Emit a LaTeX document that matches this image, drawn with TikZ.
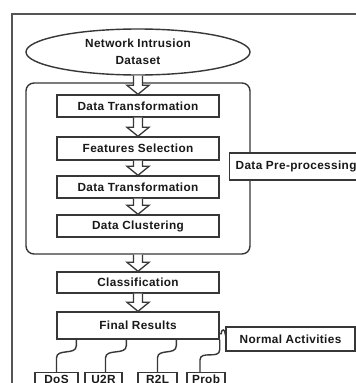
\documentclass[tikz,border=0pt]{standalone}
\usepackage{fontspec}
\newfontfamily\lbl[LetterSpace=3]{Liberation Sans}
\usetikzlibrary{shapes.geometric,calc}
\definecolor{ln}{RGB}{55,55,55}
\definecolor{tx}{RGB}{25,25,25}
\tikzset{
  lab/.style={font=\lbl\bfseries\fontsize{11.8}{17}\selectfont, text=tx},
  stepbox/.style={lab, draw=ln, line width=1.4pt, fill=white, rectangle, minimum width=162pt, inner sep=0pt},
  smallbox/.style={lab, draw=ln, line width=1.4pt, fill=white, rectangle, anchor=north, inner sep=0pt, text height=7.5pt, text depth=12pt, inner ysep=3pt},
  conn/.style={draw=ln, line width=1.4pt},
}
\newcommand\blockarr[2]{%
  \path[fill=white, draw=ln, line width=1.3pt] let \p1=(#1), \p2=(#2) in
    (\x1-4.5pt,\y1) -- (\x1-4.5pt,\y2+9pt) -- (\x1-11pt,\y2+9pt) -- (\x1,\y2)
    -- (\x1+11pt,\y2+9pt) -- (\x1+4.5pt,\y2+9pt) -- (\x1+4.5pt,\y1);
}
\begin{document}
\begin{tikzpicture}[x=1pt,y=-1pt]
\useasboundingbox (0,0) rectangle (356,383);
\clip (0,0) rectangle (356,383);
\fill[white] (0,0) rectangle (356,383);
% outer frame
\draw[draw=ln!85, line width=1.4pt] (12,14) rectangle (420,430);
% ellipse
\node[lab, ellipse, draw=ln, line width=1.4pt, minimum width=224pt, minimum height=46pt, inner sep=0pt, align=center] (ds) at (138,52) {Network Intrusion\\Dataset};
% rounded group
\node[draw=ln, line width=1.4pt, rounded corners=8pt, minimum width=224pt, minimum height=171pt, inner sep=0pt] (grp) at (138,168.5) {};
\node[lab, draw=ln, line width=1.4pt, fill=white, anchor=west, inner xsep=6pt, minimum height=27pt, inner ysep=0pt] (dpp) at (229,166.5) {Data Pre-processing};
% steps
\node[stepbox, minimum height=22pt] (dt1) at (138,106) {Data Transformation};
\node[stepbox, minimum height=23pt] (fs) at (138,148.5) {Features Selection};
\node[stepbox, minimum height=22pt] (dt2) at (138,187) {Data Transformation};
\node[stepbox, minimum height=22pt] (dc) at (138,226) {Data Clustering};
\node[stepbox, minimum height=21pt] (cls) at (138,282.5) {Classification};
\node[stepbox, minimum height=27pt] (fr) at (138,325.5) {Final Results};
\node[lab, draw=ln, line width=1.4pt, fill=white, minimum width=129pt, minimum height=24pt, inner sep=0pt] (na) at (290.5,339) {Normal Activities};
% bottom classes
\node[smallbox, minimum width=43pt] (dos) at (56.5,372) {DoS};
\node[smallbox, minimum width=37pt] (u2r) at (103.5,372) {U2R};
\node[smallbox, minimum width=39pt] (r2l) at (157.5,372) {R2L};
\node[smallbox, minimum width=38pt] (prob) at (206,372) {Prob};
% block arrows
\blockarr{ds.south}{dt1.north}
\blockarr{dt1.south}{fs.north}
\blockarr{fs.south}{dt2.north}
\blockarr{dt2.south}{dc.north}
\blockarr{grp.south}{cls.north}
\blockarr{cls.south}{fr.north}
% wavy connectors
\draw[conn] ($(fr.south west)+(20,0)$) -- ++(0,6) .. controls +(0,10) and +(0,-10) .. ($(dos.north)+(0,-14)$) -- (dos.north);
\draw[conn] ($(fr.south west)+(70,0)$) -- ++(0,6) .. controls +(0,10) and +(0,-10) .. ($(u2r.north)+(2,-14)$) -- ($(u2r.north)+(2,0)$);
\draw[conn] ($(fr.south west)+(120,0)$) -- ++(0,6) .. controls +(0,10) and +(0,-10) .. ($(r2l.north)+(0,-14)$) -- (r2l.north);
\draw[conn] (fr.south east) -- ++(0,10) .. controls +(0,10) and +(0,-10) .. ($(prob.north)+(-6,-12)$) -- ($(prob.north)+(-6,0)$);
\draw[conn] ($(fr.south east)+(0,-6)$) -- ++(1.5,0) .. controls +(0,-5) and +(0,-5) .. ++(4,0) -- ($(na.west)+(0,-6)$);
\end{tikzpicture}
\end{document}
